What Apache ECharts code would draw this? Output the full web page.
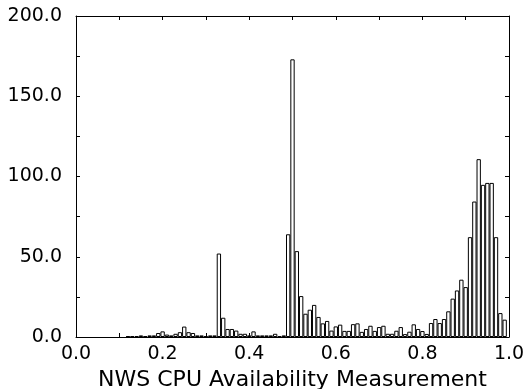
<!DOCTYPE html>
<html>
<head>
<meta charset="utf-8">
<script src="https://cdn.jsdelivr.net/npm/echarts@6/dist/echarts.min.js"></script>
<style>
  html, body { margin: 0; padding: 0; background: #fff; }
  #chart { width: 525px; height: 389px; }
</style>
</head>
<body>
<div id="chart"></div>
<script>
// histogram bin centres (width 0.01)
const binCenters = [
  0.12, 0.13, 0.14, 0.15, 0.16, 0.17, 0.18, 0.19, 0.20, 0.21,
  0.22, 0.23, 0.24, 0.25, 0.26, 0.27, 0.28, 0.29, 0.30, 0.31,
  0.32, 0.33, 0.34, 0.35, 0.36, 0.37, 0.38, 0.39, 0.40, 0.41,
  0.42, 0.43, 0.44, 0.45, 0.46, 0.47, 0.48, 0.49, 0.50, 0.51,
  0.52, 0.53, 0.54, 0.55, 0.56, 0.57, 0.58, 0.59, 0.60, 0.61,
  0.62, 0.63, 0.64, 0.65, 0.66, 0.67, 0.68, 0.69, 0.70, 0.71,
  0.72, 0.73, 0.74, 0.75, 0.76, 0.77, 0.78, 0.79, 0.80, 0.81,
  0.82, 0.83, 0.84, 0.85, 0.86, 0.87, 0.88, 0.89, 0.90, 0.91,
  0.92, 0.93, 0.94, 0.95, 0.96, 0.97, 0.98, 0.99
];

// counts per bin
const counts = [
  0.5, 0.5, 0.5, 1, 0.5, 1, 1, 2.5, 3.5, 1.5,
  1, 2, 3, 6.5, 3, 2.5, 1, 1, 0.5, 1,
  1, 52, 12, 5, 5, 4, 2, 2, 1, 3.5,
  1, 1, 1, 1, 2, 0.5, 1, 64, 173, 53.5,
  25.5, 14.5, 17, 20, 12.5, 8.5, 10, 4, 6.6, 7.7,
  3.8, 3.8, 8, 8.5, 3.2, 5, 7, 3.8, 6.2, 7,
  2, 2, 3.9, 6.2, 1.8, 3.3, 7.9, 5, 3.7, 1.9,
  8.7, 11.2, 8.7, 11.2, 16, 23.9, 29, 35.7, 31.1, 62.2,
  84.4, 110.8, 94.8, 96, 96, 62.2, 14.9, 10.8
];

const xTitle = "NWS CPU Availability Measurement";

const FONT = "DejaVu Sans";

const chart = echarts.init(document.getElementById("chart"), null, { renderer: "canvas" });

// shared axis look: black frame, short inward ticks
// onZero off, otherwise the top/right axes collapse onto the bottom/left ones
const frameLine = { show: true, onZero: false, lineStyle: { color: "#000", width: 1 } };
const inTick = { show: true, inside: true, length: 4, lineStyle: { color: "#000", width: 1 } };

chart.setOption({
  animation: false,
  backgroundColor: "#fff",
  grid: {
    left: 76, right: 16, top: 16, bottom: 52,
    containLabel: false,
    outerBoundsMode: "none"
  },
  xAxis: [
    {
      type: "value",
      min: 0, max: 1, interval: 0.1,
      axisLine: frameLine,
      axisTick: inTick,
      splitLine: { show: false },
      axisLabel: {
        color: "#000", fontFamily: FONT, fontSize: 19, margin: 8,
        showMinLabel: true, showMaxLabel: true,
        formatter: (v) => (Math.round(v * 10) % 2 === 0 ? v.toFixed(1) : "")
      },
      name: xTitle,
      nameLocation: "middle",
      nameGap: 32,
      nameTextStyle: { color: "#000", fontFamily: FONT, fontSize: 22 }
    },
    {
      type: "value", position: "top",
      min: 0, max: 1, interval: 0.1,
      axisLine: frameLine,
      axisTick: inTick,
      splitLine: { show: false },
      axisLabel: { show: false }
    }
  ],
  yAxis: [
    {
      type: "value",
      min: 0, max: 200, interval: 25,
      axisLine: frameLine,
      axisTick: inTick,
      splitLine: { show: false },
      axisLabel: {
        color: "#000", fontFamily: FONT, fontSize: 19, margin: 14,
        formatter: (v) => (v % 50 === 0 ? v.toFixed(1) : "")
      }
    },
    {
      type: "value", position: "right",
      min: 0, max: 200, interval: 25,
      axisLine: frameLine,
      axisTick: inTick,
      splitLine: { show: false },
      axisLabel: { show: false }
    }
  ],
  series: [
    {
      type: "bar",
      xAxisIndex: 0,
      yAxisIndex: 0,
      barWidth: 4.34,
      itemStyle: { color: "#fff", borderColor: "#000", borderWidth: 1 },
      data: binCenters.map((c, i) => [c, counts[i]])
    }
  ]
});
</script>
</body>
</html>
